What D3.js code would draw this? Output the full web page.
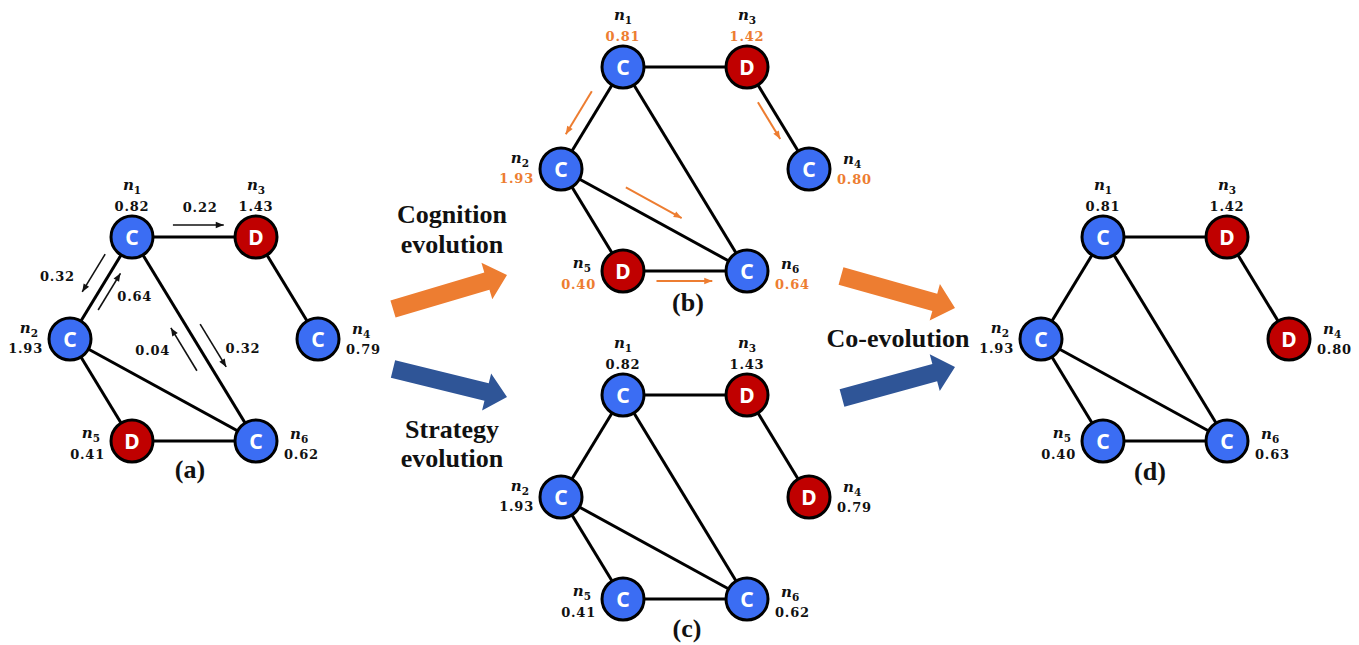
<!DOCTYPE html>
<html><head><meta charset="utf-8">
<script src="https://cdn.jsdelivr.net/npm/d3@7"></script>
<style>body{margin:0;background:#fff}svg{display:block}</style>
</head><body>
<svg id="chart" width="1359" height="645"></svg>
<script>
// ---------- DATA ----------
const nodeNumbers = [1, 2, 3, 4, 5, 6];
const edgeList = [[1,3],[1,2],[1,6],[3,4],[2,5],[2,6],[5,6]];

const strategiesA = ["C","C","D","C","D","C"];
const payoffsA    = [0.82, 1.93, 1.43, 0.79, 0.41, 0.62];
const strategiesB = ["C","C","D","C","D","C"];
const payoffsB    = [0.81, 1.93, 1.42, 0.80, 0.40, 0.64];
const strategiesC = ["C","C","D","D","C","C"];
const payoffsC    = [0.82, 1.93, 1.43, 0.79, 0.41, 0.62];
const strategiesD = ["C","C","D","D","C","C"];
const payoffsD    = [0.81, 1.93, 1.42, 0.80, 0.40, 0.63];

// cognition flows in panel (a)
const flowFrom  = [1, 1, 2, 6, 1];
const flowTo    = [3, 2, 1, 1, 6];
const flowValue = [0.22, 0.32, 0.64, 0.04, 0.32];
// imitation arrows in panel (b)
const imitFrom = [1, 3, 2, 5];
const imitTo   = [2, 4, 6, 6];

const panelLabels = ["(a)", "(b)", "(c)", "(d)"];
const processLabels = [["Cognition", "evolution"], ["Strategy", "evolution"], ["Co-evolution"]];

// ---------- LAYOUT / STYLE ----------
const gridX = {1:0, 2:-1, 3:2, 4:3, 5:0, 6:2};
const gridY = {1:0, 2:1, 3:0, 4:1, 5:2, 6:2};
const side  = {1:"top", 2:"left", 3:"top", 4:"right", 5:"left", 6:"right"};
const BLUE = "#3B6DF3", RED = "#C00000", ORANGE = "#ED7D31", NAVY = "#2F5597";
const R = 21;

const panels = [
  {ox:132, oy:237, strat:strategiesA, pay:payoffsA, valColor:"#111", label:panelLabels[0], lx:190, ly:478},
  {ox:623, oy:67,  strat:strategiesB, pay:payoffsB, valColor:ORANGE, label:panelLabels[1], lx:688, ly:311},
  {ox:623, oy:395, strat:strategiesC, pay:payoffsC, valColor:"#111", label:panelLabels[2], lx:687, ly:637},
  {ox:1103,oy:237, strat:strategiesD, pay:payoffsD, valColor:"#111", label:panelLabels[3], lx:1150,ly:480}
];
const flowGeom = [
  {t0:.33,t1:.74,p:-12, lt:.55, lp:-30},
  {t0:.24,t1:.61,p:14,  lt:.61, lp:43},
  {t0:.33,t1:.69,p:9,   lt:.59, lp:33},
  {t0:.38,t1:.59,p:-14, lt:.55, lp:-41},
  {t0:.46,t1:.67,p:-13, lt:.64, lp:-37}
];
const imitGeom = [
  {t0:.31,t1:.73,p:14},
  {t0:.30,t1:.66,p:9},
  {t0:.31,t1:.61,p:-15},
  {t0:.27,t1:.72,p:10}
];

const svg = d3.select("#chart");
const defs = svg.append("defs");
function marker(id, color) {
  defs.append("marker").attr("id", id).attr("markerUnits","userSpaceOnUse")
    .attr("viewBox","0 -5 10 10").attr("refX",10).attr("refY",0)
    .attr("markerWidth",9).attr("markerHeight",8).attr("orient","auto")
    .append("path").attr("d","M0,-4L10,0L0,4Z").attr("fill", color);
}
marker("mk-black", "#111");
marker("mk-orange", ORANGE);

const fmt = d3.format(".2f");

function along(x, y, a, b, t, p) {
  const ax = x(gridX[a]), ay = y(gridY[a]), bx = x(gridX[b]), by = y(gridY[b]);
  const dx = bx - ax, dy = by - ay, L = Math.hypot(dx, dy);
  const nx = -dy / L, ny = dx / L;
  return [ax + t*dx + p*nx, ay + t*dy + p*ny];
}

panels.forEach((P, pi) => {
  const x = d3.scaleLinear().domain([0,1]).range([P.ox, P.ox + 62]);
  const y = d3.scaleLinear().domain([0,1]).range([P.oy, P.oy + 102]);
  const g = svg.append("g");

  g.selectAll("line.edge").data(edgeList).join("line").attr("class","edge")
    .attr("x1", d => x(gridX[d[0]])).attr("y1", d => y(gridY[d[0]]))
    .attr("x2", d => x(gridX[d[1]])).attr("y2", d => y(gridY[d[1]]))
    .attr("stroke","#000").attr("stroke-width",3);

  if (pi === 0) {
    flowValue.forEach((v, i) => {
      const G = flowGeom[i];
      const s = along(x, y, flowFrom[i], flowTo[i], G.t0, G.p);
      const e = along(x, y, flowFrom[i], flowTo[i], G.t1, G.p);
      g.append("line").attr("x1",s[0]).attr("y1",s[1]).attr("x2",e[0]).attr("y2",e[1])
        .attr("stroke","#111").attr("stroke-width",1.6).attr("marker-end","url(#mk-black)");
      const l = along(x, y, flowFrom[i], flowTo[i], G.lt, G.lp);
      g.append("text").attr("x",l[0]).attr("y",l[1]).attr("dy","0.35em")
        .attr("text-anchor","middle").attr("font-family","DejaVu Serif")
        .attr("font-weight","bold").attr("font-size",13).attr("letter-spacing",0.8)
        .attr("fill","#111").text(fmt(v));
    });
  }
  if (pi === 1) {
    imitFrom.forEach((a, i) => {
      const G = imitGeom[i];
      const s = along(x, y, a, imitTo[i], G.t0, G.p);
      const e = along(x, y, a, imitTo[i], G.t1, G.p);
      g.append("line").attr("x1",s[0]).attr("y1",s[1]).attr("x2",e[0]).attr("y2",e[1])
        .attr("stroke",ORANGE).attr("stroke-width",2).attr("marker-end","url(#mk-orange)");
    });
  }

  const nodes = nodeNumbers.map((n, i) => ({n, s:P.strat[i], v:P.pay[i]}));
  const ng = g.selectAll("g.node").data(nodes).join("g")
    .attr("transform", d => `translate(${x(gridX[d.n])},${y(gridY[d.n])})`);
  ng.append("circle").attr("r",R).attr("fill", d => d.s === "C" ? BLUE : RED)
    .attr("stroke","#000").attr("stroke-width",3);
  ng.append("text").attr("text-anchor","middle").attr("dy","0.36em")
    .attr("font-family","Noto Sans").attr("font-weight","bold").attr("font-size",21)
    .attr("fill","#fff").text(d => d.s);

  ng.each(function(d) {
    const el = d3.select(this);
    const sd = side[d.n];
    const bottom = gridY[d.n] === 2;
    let nx, ny, vx, vy, anchor;
    if (sd === "top") { nx = 0; ny = -47; vx = 0; vy = -26; anchor = "middle"; }
    else if (sd === "left") { nx = -32; ny = bottom ? -3 : -6; vx = -27; vy = bottom ? 18 : 14; anchor = "end"; }
    else { nx = 34; ny = bottom ? -2 : -5; vx = 28; vy = bottom ? 18 : 15; anchor = "start"; }
    const t = el.append("text").attr("x",nx).attr("y",ny).attr("text-anchor",anchor)
      .attr("font-family","DejaVu Serif").attr("font-weight","bold").attr("fill","#111");
    t.append("tspan").attr("font-style","italic").attr("font-size",15).text("n");
    t.append("tspan").attr("font-size",10.5).attr("dy",4).text(d.n);
    el.append("text").attr("x",vx).attr("y",vy).attr("text-anchor",anchor)
      .attr("font-family","DejaVu Serif").attr("font-weight","bold").attr("font-size",13)
      .attr("letter-spacing",0.8).attr("fill",P.valColor).text(fmt(d.v));
  });

  svg.append("text").attr("x",P.lx).attr("y",P.ly).attr("text-anchor","middle")
    .attr("font-family","Liberation Serif").attr("font-weight","bold").attr("font-size",26)
    .attr("fill","#111").text(P.label);
});

// ---------- block arrows ----------
function blockArrow(x0, y0, x1, y1, sw, hw, hl) {
  const dx = x1-x0, dy = y1-y0, L = Math.hypot(dx,dy), ux = dx/L, uy = dy/L, nx = -uy, ny = ux;
  const bx = x1 - ux*hl, by = y1 - uy*hl;
  const pts = [
    [x0 + nx*sw/2, y0 + ny*sw/2], [bx + nx*sw/2, by + ny*sw/2], [bx + nx*hw/2, by + ny*hw/2],
    [x1, y1], [bx - nx*hw/2, by - ny*hw/2], [bx - nx*sw/2, by - ny*sw/2], [x0 - nx*sw/2, y0 - ny*sw/2]
  ];
  return pts.map(p => p.join(",")).join(" ");
}
const arrows = [
  [393,309,507,275,ORANGE],
  [393,369,507,397,NAVY],
  [841,276,955,308,ORANGE],
  [842,398,955,367,NAVY]
];
svg.selectAll("polygon.big").data(arrows).join("polygon")
  .attr("points", d => blockArrow(d[0],d[1],d[2],d[3],18,38,21)).attr("fill", d => d[4]);

// ---------- process labels ----------
const procPos = [[452,223,30],[452,438,29],[898,347,0]];
processLabels.forEach((lines, i) => {
  const t = svg.append("text").attr("text-anchor","middle")
    .attr("font-family","Liberation Serif").attr("font-weight","bold").attr("font-size",26).attr("fill","#111");
  lines.forEach((s, j) => t.append("tspan").attr("x",procPos[i][0]).attr("y",procPos[i][1] + j*procPos[i][2]).text(s));
});
</script>
</body></html>
